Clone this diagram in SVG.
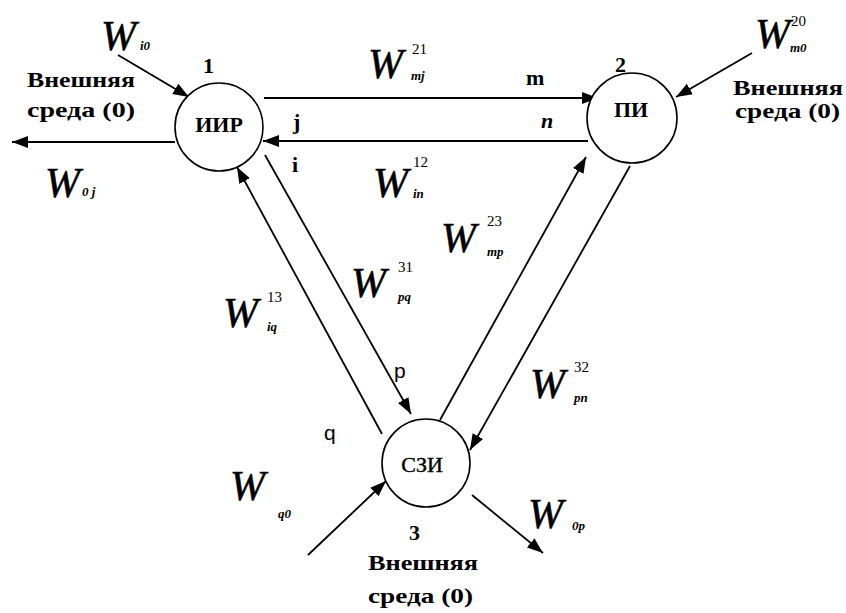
<svg xmlns="http://www.w3.org/2000/svg" width="846" height="613" viewBox="0 0 846 613">
<style>
.ln{stroke:#000;stroke-width:1.8;fill:none}
.node{fill:#fff;stroke:#000;stroke-width:1.6}
</style>
<defs>
<marker id="ah" markerWidth="18" markerHeight="14" refX="16" refY="7" orient="auto" markerUnits="userSpaceOnUse">
<path d="M0,1 L16,7 L0,13 Z" fill="#000"/>
</marker>
</defs>
<g id="connectors">
<line class="ln" x1="264" y1="98" x2="598" y2="98" stroke-width="2.6" marker-end="url(#ah)"/>
<line class="ln" x1="588" y1="141" x2="263" y2="141" stroke-width="2.6" marker-end="url(#ah)"/>
<line class="ln" x1="175" y1="142" x2="12" y2="142" marker-end="url(#ah)"/>
<line class="ln" x1="118" y1="55" x2="189" y2="97" marker-end="url(#ah)"/>
<line class="ln" x1="752" y1="53" x2="676" y2="97" marker-end="url(#ah)"/>
<line class="ln" x1="382" y1="434" x2="237" y2="167" marker-end="url(#ah)"/>
<line class="ln" x1="265" y1="155" x2="411" y2="414" marker-end="url(#ah)"/>
<line class="ln" x1="440" y1="420" x2="586" y2="157" marker-end="url(#ah)"/>
<line class="ln" x1="630" y1="166" x2="470" y2="450" marker-end="url(#ah)"/>
<line class="ln" x1="308" y1="555" x2="386" y2="481" marker-end="url(#ah)"/>
<line class="ln" x1="472" y1="495" x2="543" y2="553" marker-end="url(#ah)"/>
</g>
<g id="node1">
<circle class="node" cx="219" cy="127" r="44"/>
<text font-family="Liberation Serif" x="219" y="132" font-size="22" font-weight="bold" text-anchor="middle">ИИР</text>
<text font-family="Liberation Serif" x="203" y="73" font-size="22" font-weight="bold">1</text>
</g>
<g id="node2">
<circle class="node" cx="632" cy="118" r="45"/>
<text font-family="Liberation Serif" x="631" y="117" font-size="22" font-weight="bold" text-anchor="middle">ПИ</text>
<text font-family="Liberation Serif" x="615" y="72" font-size="22" font-weight="bold">2</text>
</g>
<g id="node3">
<circle class="node" cx="426" cy="463" r="44"/>
<text font-family="Liberation Serif" x="422" y="472" font-size="22" text-anchor="middle" stroke="#000" stroke-width="0.4">СЗИ</text>
<text font-family="Liberation Serif" x="409" y="540" font-size="22" font-weight="bold">3</text>
</g>
<g id="W" font-size="42" font-style="italic" stroke="#000" stroke-width="0.6">
<text font-family="Liberation Serif" x="101" y="50">W</text>
<text font-family="Liberation Serif" x="45" y="197">W</text>
<text font-family="Liberation Serif" x="368" y="78">W</text>
<text font-family="Liberation Serif" x="373" y="197">W</text>
<text font-family="Liberation Serif" x="755" y="48">W</text>
<text font-family="Liberation Serif" x="441" y="252">W</text>
<text font-family="Liberation Serif" x="351" y="297">W</text>
<text font-family="Liberation Serif" x="223" y="327">W</text>
<text font-family="Liberation Serif" x="530" y="398">W</text>
<text font-family="Liberation Serif" x="230" y="500">W</text>
<text font-family="Liberation Serif" x="528" y="528">W</text>
</g>
<g id="sup" font-size="15">
<text font-family="Liberation Serif" x="412" y="54">21</text>
<text font-family="Liberation Serif" x="413" y="167">12</text>
<text font-family="Liberation Serif" x="791" y="26">20</text>
<text font-family="Liberation Serif" x="487" y="226">23</text>
<text font-family="Liberation Serif" x="398" y="272">31</text>
<text font-family="Liberation Serif" x="267" y="302">13</text>
<text font-family="Liberation Serif" x="574" y="372">32</text>
</g>
<g id="sub" font-size="13" font-style="italic" font-weight="bold">
<text font-family="Liberation Serif" x="140" y="50">i0</text>
<text font-family="Liberation Serif" x="82" y="196">0 j</text>
<text font-family="Liberation Serif" x="411" y="80">mj</text>
<text font-family="Liberation Serif" x="413" y="198">in</text>
<text font-family="Liberation Serif" x="790" y="52">m0</text>
<text font-family="Liberation Serif" x="487" y="256">mp</text>
<text font-family="Liberation Serif" x="398" y="301">pq</text>
<text font-family="Liberation Serif" x="267" y="331">iq</text>
<text font-family="Liberation Serif" x="574" y="402">pn</text>
<text font-family="Liberation Serif" x="278" y="518">q0</text>
<text font-family="Liberation Serif" x="572" y="530">0p</text>
</g>
<g id="ports" font-size="22" font-weight="bold">
<text font-family="Liberation Serif" x="526" y="85">m</text>
<text font-family="Liberation Serif" x="293" y="129">j</text>
<text font-family="Liberation Serif" x="541" y="128" font-style="italic">n</text>
<text font-family="Liberation Serif" x="292" y="172">i</text>
</g>
<g id="env" font-size="21" font-weight="bold">
<text font-family="Liberation Serif" x="27" y="87" textLength="108" lengthAdjust="spacingAndGlyphs">Внешняя</text>
<text font-family="Liberation Serif" x="27" y="117" textLength="108" lengthAdjust="spacingAndGlyphs">среда (0)</text>
<text font-family="Liberation Serif" x="733" y="95" textLength="110" lengthAdjust="spacingAndGlyphs">Внешняя</text>
<text font-family="Liberation Serif" x="735" y="118" textLength="105" lengthAdjust="spacingAndGlyphs">среда (0)</text>
<text font-family="Liberation Serif" x="368" y="570" textLength="110" lengthAdjust="spacingAndGlyphs">Внешняя</text>
<text font-family="Liberation Serif" x="368" y="603" textLength="105" lengthAdjust="spacingAndGlyphs">среда (0)</text>
</g>
<g id="sans-labels" font-size="21">
<text font-family="Liberation Sans" x="394" y="378">p</text>
<text font-family="Liberation Sans" x="324" y="440">q</text>
</g>
</svg>
